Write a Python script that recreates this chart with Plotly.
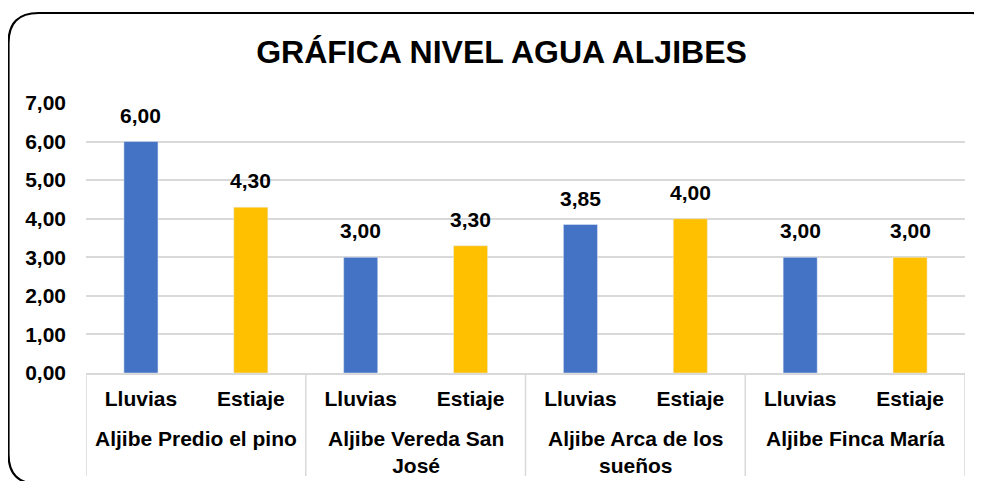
import plotly.graph_objects as go

groups = ["Aljibe Predio el pino", "Aljibe Vereda San<br>José", "Aljibe Arca de los<br>sueños", "Aljibe Finca María"]
seasons = ["Lluvias", "Estiaje"]
lluvias = [6.00, 3.00, 3.85, 3.00]
estiaje = [4.30, 3.30, 4.00, 3.00]
y_ticks = [0, 1, 2, 3, 4, 5, 6, 7]
title_text = "GRÁFICA NIVEL AGUA ALJIBES"

# the page body has an 8px margin; work in reference pixels and shift
OFF = 8
W, H = 982 - OFF, 481 - OFF
L, R, T, B = 86 - OFF, 965 - OFF, 103 - OFF, 373 - OFF
FONT = "Liberation Sans, Arial, sans-serif"
BLACK = "#000000"
GRID = "#D9D9D9"

def px_x(p):
    return (p - OFF - L) / (R - L)

def px_y(p):
    return (B - (p - OFF)) / (B - T)

n_sub = len(seasons)
pos_ll = [g * n_sub + 0 for g in range(len(groups))]
pos_es = [g * n_sub + 1 for g in range(len(groups))]

fig = go.Figure()
fig.add_trace(go.Bar(x=pos_ll, y=lluvias, name=seasons[0],
                     marker_color="#4472C4", width=0.31))
fig.add_trace(go.Bar(x=pos_es, y=estiaje, name=seasons[1],
                     marker_color="#FFC000", width=0.31))

# value labels
for xs, vals in ((pos_ll, lluvias), (pos_es, estiaje)):
    for xv, v in zip(xs, vals):
        fig.add_annotation(
            x=xv, y=v, xref="x", yref="y",
            text=f"<b>{v:.2f}</b>".replace(".", ","),
            showarrow=False, yanchor="bottom", yshift=13,
            font=dict(family=FONT, size=21, color=BLACK),
        )

# group labels and dividers
for gi, g in enumerate(groups):
    fig.add_annotation(
        x=gi * n_sub + (n_sub - 1) / 2, y=px_y(425), xref="x", yref="paper",
        text=f"<b>{g}</b>", showarrow=False, yanchor="top",
        font=dict(family=FONT, size=21, color=BLACK),
    )
for k in range(len(groups) + 1):
    fig.add_shape(type="line", xref="x", yref="paper",
                  x0=k * n_sub - 0.5, x1=k * n_sub - 0.5,
                  y0=0, y1=px_y(476), line=dict(color=GRID, width=1.5))

# rounded border
x0, x1, y0, y1, r = 8.5, 1002, 13, 484, 30
path = (
    f"M {px_x(x0+r)},{px_y(y0)} L {px_x(x1-r)},{px_y(y0)} "
    f"Q {px_x(x1)},{px_y(y0)} {px_x(x1)},{px_y(y0+r)} "
    f"L {px_x(x1)},{px_y(y1-r)} Q {px_x(x1)},{px_y(y1)} {px_x(x1-r)},{px_y(y1)} "
    f"L {px_x(x0+r)},{px_y(y1)} Q {px_x(x0)},{px_y(y1)} {px_x(x0)},{px_y(y1-r)} "
    f"L {px_x(x0)},{px_y(y0+r)} Q {px_x(x0)},{px_y(y0)} {px_x(x0+r)},{px_y(y0)} Z"
)
fig.add_shape(type="path", path=path, xref="paper", yref="paper",
              line=dict(color=BLACK, width=2.2), layer="above")

fig.update_layout(
    width=W, height=H,
    margin=dict(l=L, r=W - R, t=T, b=H - B),
    paper_bgcolor="white", plot_bgcolor="white",
    barmode="overlay", showlegend=False,
    separators=",.",
    font=dict(family=FONT, size=21, color=BLACK),
    title=dict(text=f"<b>{title_text}</b>", x=(501.5 - OFF) / W, xanchor="center",
               y=1 - (52 - OFF) / H, yanchor="middle",
               font=dict(family=FONT, size=32, color=BLACK)),
)
fig.update_xaxes(
    range=[-0.5, len(groups) * n_sub - 0.5],
    tickvals=pos_ll + pos_es, ticktext=[seasons[0]] * len(groups) + [seasons[1]] * len(groups),
    showline=True, linecolor=GRID, linewidth=1.5, mirror=False,
    ticks="", showgrid=False, zeroline=False, ticklabelstandoff=6,
    tickfont=dict(family=FONT, size=21, color=BLACK, weight="bold"),
)
fig.update_yaxes(
    range=[0, 7], tickvals=y_ticks, tickformat=".2f", showgrid=True,
    gridcolor=GRID, gridwidth=1.5, zeroline=False, ticks="",
    ticklabelstandoff=19,
    tickfont=dict(family=FONT, size=21, color=BLACK, weight="bold"),
)

fig.write_html("out.html")
